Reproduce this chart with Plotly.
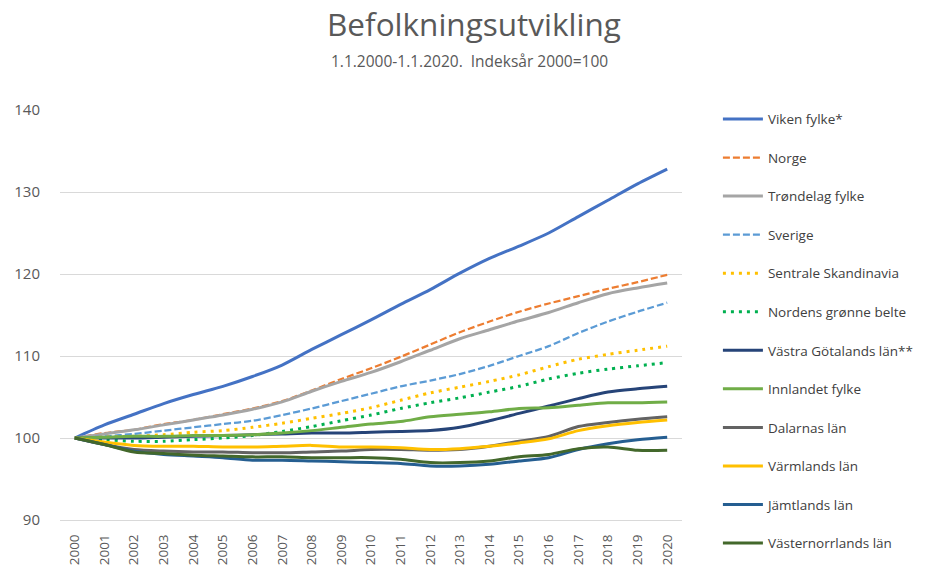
import plotly.graph_objects as go

years = [str(y) for y in range(2000, 2021)]

viken = [100, 101.6, 102.9, 104.2, 105.3, 106.3, 107.5, 108.9, 110.8, 112.6, 114.4, 116.3, 118.1, 120.1, 121.9, 123.4, 125.0, 127.0, 129.0, 131.0, 132.8]
norge = [100, 100.6, 101.0, 101.7, 102.2, 102.9, 103.6, 104.5, 105.8, 107.2, 108.5, 109.9, 111.4, 112.9, 114.2, 115.4, 116.4, 117.3, 118.2, 119.0, 119.9]
trondelag = [100, 100.5, 101.0, 101.6, 102.2, 102.8, 103.5, 104.4, 105.7, 106.9, 108.0, 109.3, 110.7, 112.1, 113.2, 114.3, 115.3, 116.5, 117.6, 118.3, 118.9]
sverige = [100, 100.2, 100.5, 100.9, 101.3, 101.7, 102.1, 102.8, 103.6, 104.5, 105.4, 106.3, 107.0, 107.8, 108.8, 110.0, 111.2, 112.8, 114.2, 115.4, 116.5]
sentrale = [100, 100.1, 100.2, 100.4, 100.7, 100.9, 101.3, 101.8, 102.4, 103.0, 103.7, 104.6, 105.5, 106.2, 106.9, 107.7, 108.7, 109.6, 110.2, 110.7, 111.2]
gronne = [100, 99.8, 99.6, 99.6, 99.8, 100.0, 100.3, 100.8, 101.4, 102.1, 102.8, 103.6, 104.3, 104.9, 105.6, 106.3, 107.2, 107.9, 108.4, 108.8, 109.2]
vastra_gotaland = [100, 100.0, 100.0, 100.1, 100.2, 100.3, 100.4, 100.5, 100.6, 100.6, 100.7, 100.8, 100.9, 101.3, 102.1, 103.0, 103.9, 104.8, 105.6, 106.0, 106.3]
innlandet = [100, 100.1, 100.2, 100.2, 100.3, 100.3, 100.4, 100.6, 100.9, 101.3, 101.7, 102.0, 102.6, 102.9, 103.2, 103.6, 103.7, 104.0, 104.3, 104.3, 104.4]
dalarna = [100, 99.2, 98.6, 98.4, 98.3, 98.3, 98.2, 98.2, 98.3, 98.4, 98.6, 98.6, 98.5, 98.6, 99.0, 99.6, 100.2, 101.4, 101.9, 102.3, 102.6]
varmland = [100, 99.5, 99.1, 99.0, 99.0, 98.9, 98.9, 99.0, 99.1, 98.9, 98.9, 98.8, 98.6, 98.7, 99.0, 99.4, 99.9, 100.9, 101.5, 101.9, 102.2]
jamtland = [100, 99.2, 98.4, 98.0, 97.8, 97.6, 97.3, 97.3, 97.2, 97.1, 97.0, 96.9, 96.6, 96.6, 96.8, 97.2, 97.6, 98.6, 99.3, 99.8, 100.1]
vasternorrland = [100, 99.2, 98.3, 98.1, 97.9, 97.8, 97.7, 97.7, 97.6, 97.6, 97.6, 97.4, 97.0, 97.0, 97.2, 97.7, 98.0, 98.7, 98.9, 98.5, 98.5]

series = [
    ("Viken fylke*", viken, "#4472C4", "solid", 3),
    ("Norge", norge, "#ED7D31", "7px,3px", 2.25),
    ("Trøndelag fylke", trondelag, "#A5A5A5", "solid", 3),
    ("Sverige", sverige, "#5B9BD5", "7px,3px", 2.25),
    ("Sentrale Skandinavia", sentrale, "#FFC000", "3px,5px", 3),
    ("Nordens grønne belte", gronne, "#00B050", "3px,5px", 3),
    ("Västra Götalands län**", vastra_gotaland, "#264478", "solid", 3),
    ("Innlandet fylke", innlandet, "#70AD47", "solid", 3),
    ("Dalarnas län", dalarna, "#636363", "solid", 3),
    ("Värmlands län", varmland, "#FFC000", "solid", 3),
    ("Jämtlands län", jamtland, "#255E91", "solid", 3),
    ("Västernorrlands län", vasternorrland, "#43682B", "solid", 3),
]

fig = go.Figure()
for name, vals, color, dash, w in series:
    fig.add_trace(go.Scatter(
        x=years, y=vals, name=name, mode="lines", legendgroup=name,
        line=dict(color=color, width=w, dash=dash, shape="spline", smoothing=0.8),
    ))

FONT = "Open Sans"
fig.update_layout(
    width=936, height=570,
    margin=dict(l=60, r=254, t=110, b=50),
    paper_bgcolor="white", plot_bgcolor="white",
    font=dict(family=FONT, color="#595959", size=14),
    showlegend=True,
    legend=dict(
        xref="container", yref="container", x=0.767, y=0.818,
        xanchor="left", yanchor="top",
        font=dict(family=FONT, size=13.5, color="#404040"),
        tracegroupgap=18.0, itemwidth=40, maxheight=560,
        bgcolor="rgba(0,0,0,0)",
    ),
    annotations=[
        dict(text="Befolkningsutvikling", xref="paper", yref="paper", x=0.6656, y=1.2098,
             xanchor="center", yanchor="middle", showarrow=False,
             font=dict(family=FONT, size=31.5, color="#595959")),
        dict(text="1.1.2000-1.1.2020.  Indeksår 2000=100", xref="paper", yref="paper",
             x=0.659, y=1.1195, xanchor="center", yanchor="middle", showarrow=False,
             font=dict(family=FONT, size=15.5, color="#595959")),
    ],
)
fig.update_xaxes(
    type="category", range=[-0.5, 20.5], tickangle=-90, automargin=False,
    showgrid=False, showline=True, linecolor="#D9D9D9", linewidth=1,
    ticks="", ticklabelstandoff=8, tickfont=dict(family=FONT, size=13.5, color="#595959"),
)
fig.update_yaxes(
    range=[90, 140], dtick=10, showgrid=True, gridcolor="#D9D9D9", gridwidth=1,
    zeroline=False, showline=False, ticks="", ticklabelstandoff=19, automargin=False,
    tickfont=dict(family=FONT, size=15, color="#595959"),
)

fig.write_html("out.html", config={"displayModeBar": False},
               post_script="document.body.style.margin='0';")
